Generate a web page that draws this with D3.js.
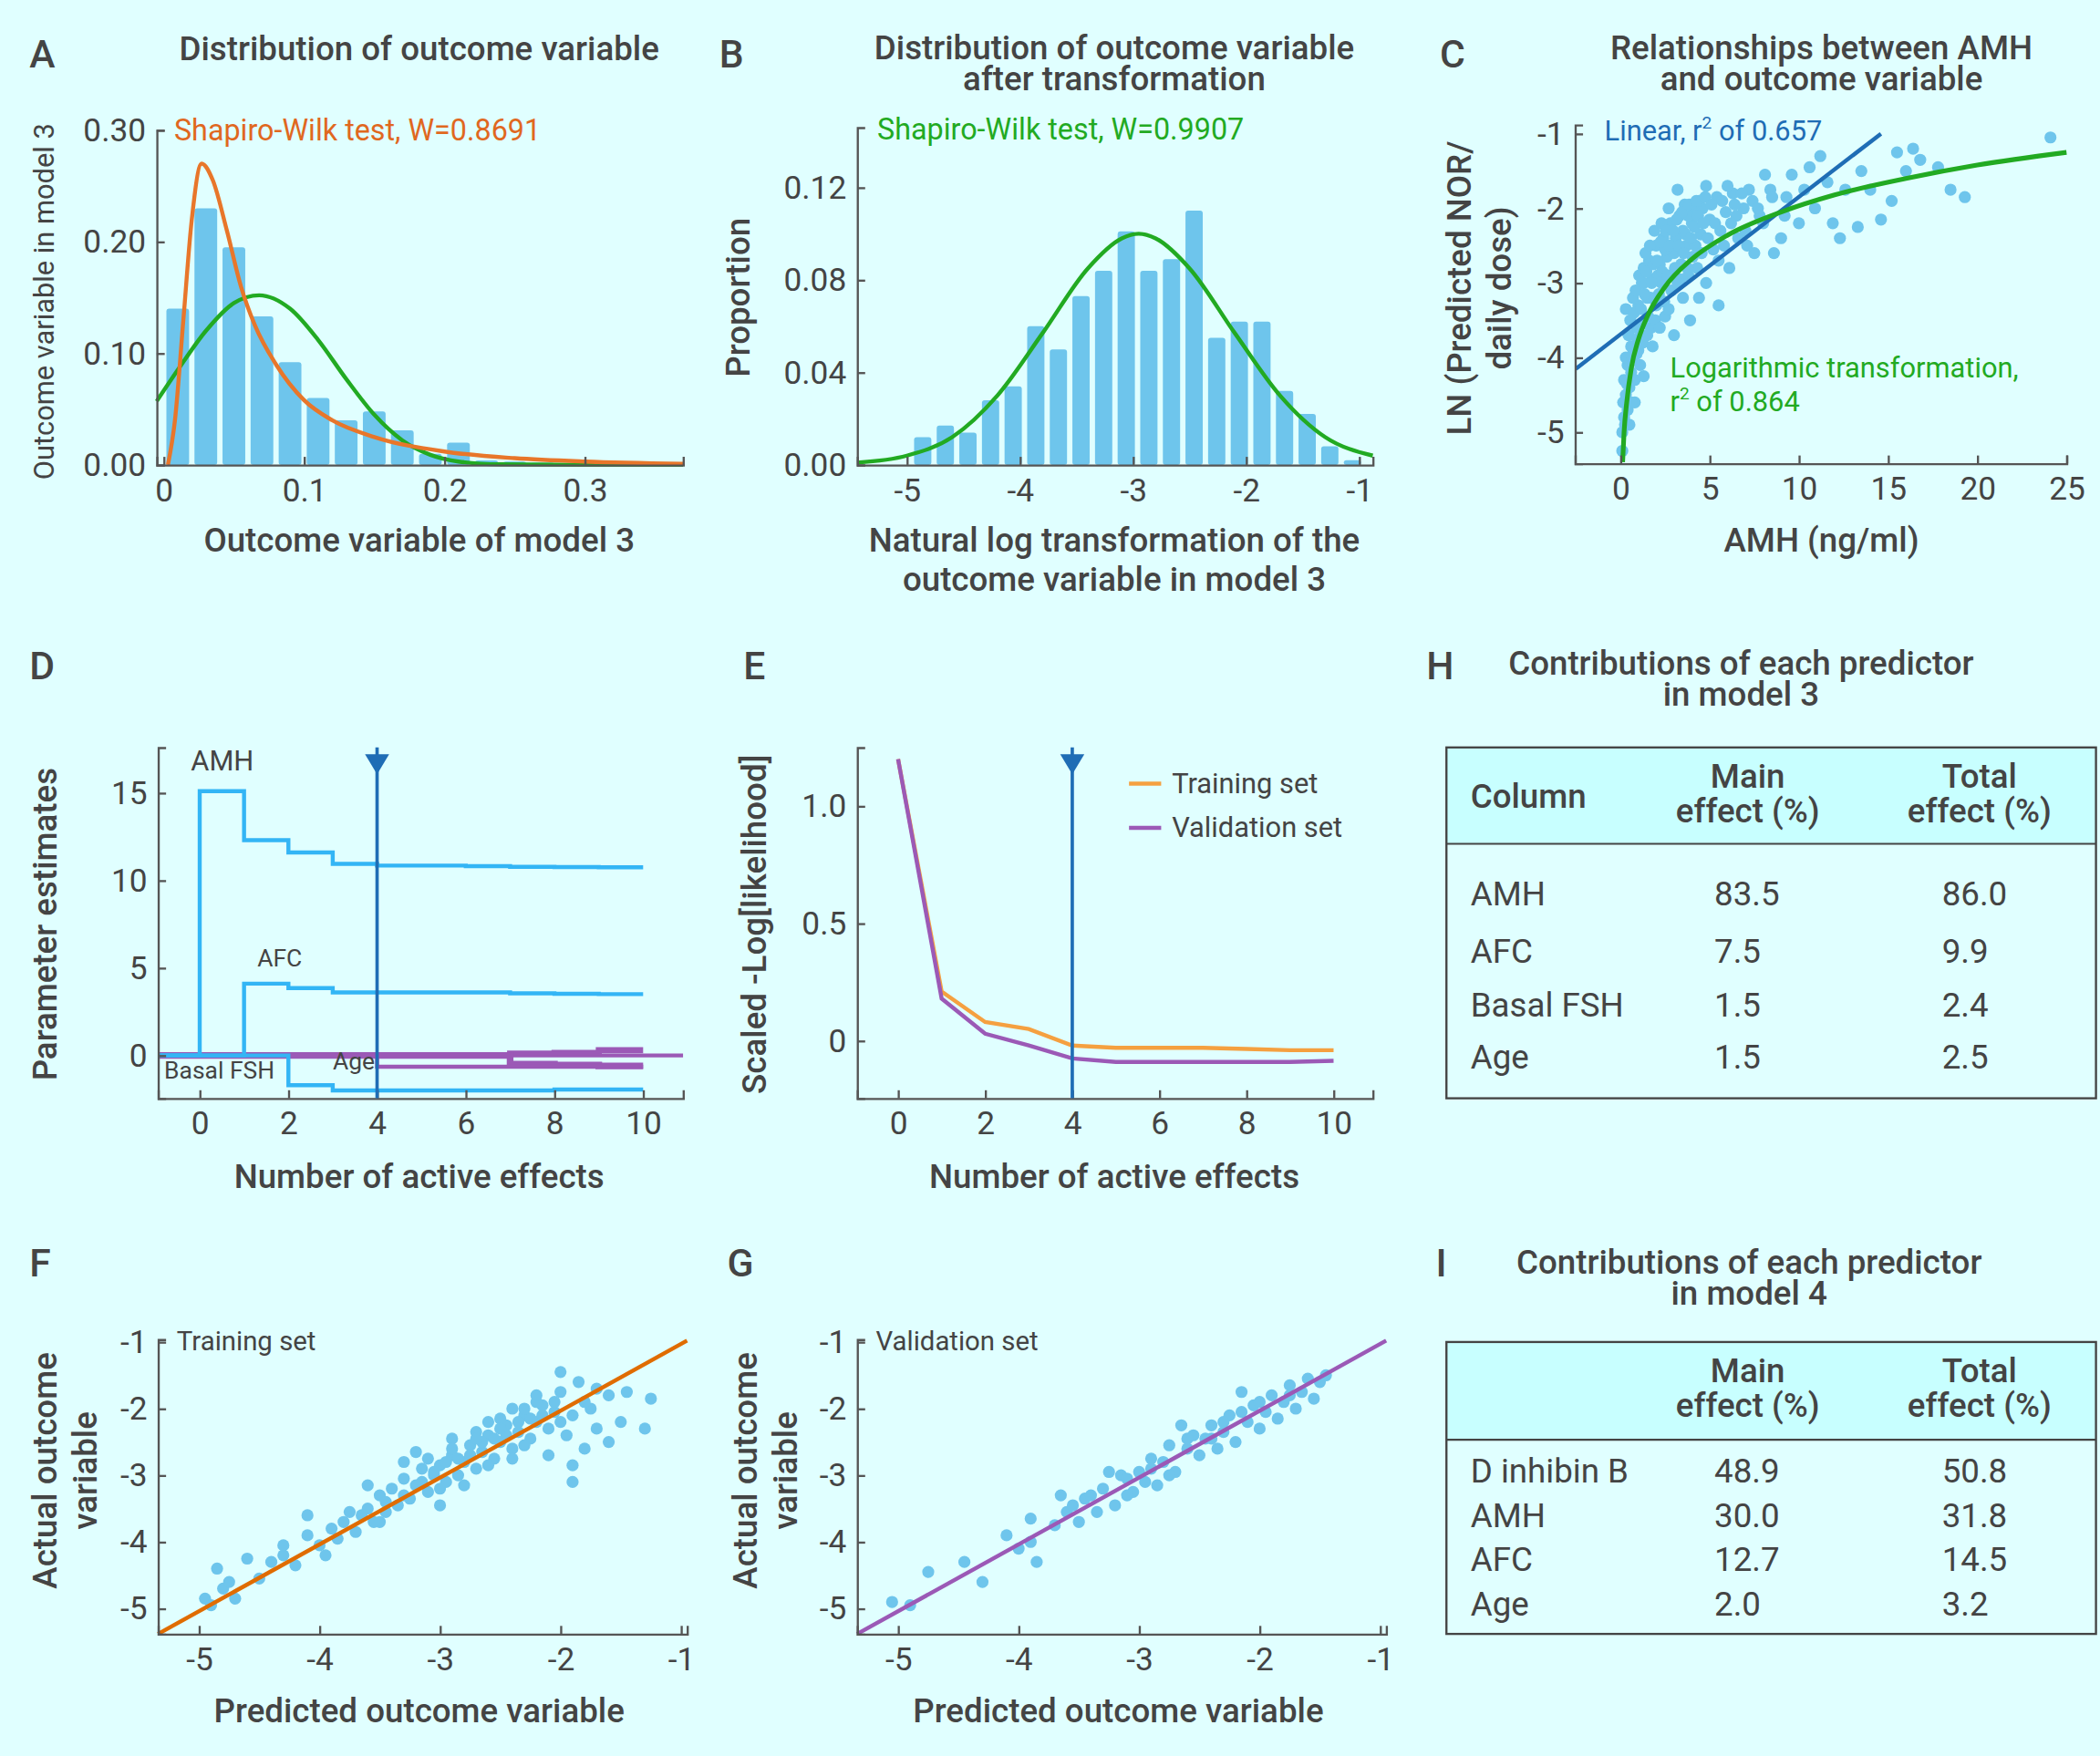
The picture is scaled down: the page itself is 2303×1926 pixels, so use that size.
<!DOCTYPE html>
<html><head><meta charset="utf-8">
<script src="https://cdn.jsdelivr.net/npm/d3@7"></script>
<style>
body{margin:0;background:#e0ffff;}
text{font-family:Roboto,"Noto Sans",sans-serif;fill:#444;}
</style></head><body>
<svg id="fig" width="2303" height="1926" viewBox="0 0 1568 1311"></svg>
<script>
// ---- data ----
const histA = [0.14,0.23,0.195,0.133,0.092,0.06,0.04,0.048,0.031,0.01,0.02,0.004,0.003,0.002,0.001];
const histAStart = 0.0, histAWidth = 0.02;
const skewFitA = [[0.003,0],[0.008,0.04],[0.014,0.13],[0.02,0.22],[0.027,0.27],[0.035,0.255],[0.045,0.21],[0.055,0.16],[0.065,0.125],[0.08,0.09],[0.1,0.058],[0.12,0.04],[0.15,0.025],[0.2,0.012],[0.25,0.006],[0.3,0.003],[0.37,0.001]];
const normFitA = [[-0.005,0.057],[0.01,0.085],[0.03,0.12],[0.05,0.145],[0.068,0.152],[0.09,0.14],[0.11,0.112],[0.13,0.077],[0.15,0.045],[0.17,0.022],[0.19,0.009],[0.21,0.003],[0.24,0.0005],[0.3,0],[0.37,0]];

const histB = [0.012,0.017,0.014,0.028,0.034,0.060,0.050,0.073,0.084,0.101,0.084,0.089,0.110,0.055,0.062,0.062,0.032,0.022,0.008,0.002];
const histBStart = -4.96, histBWidth = 0.2;
const normFitB = [[-5.44,0.001],[-5.0,0.004],[-4.6,0.012],[-4.2,0.03],[-3.8,0.057],[-3.4,0.085],[-3.1,0.098],[-2.95,0.1],[-2.8,0.098],[-2.5,0.085],[-2.1,0.057],[-1.7,0.03],[-1.3,0.012],[-0.88,0.004]];

const amhPoints = [[0.1,-5.25],[0.1,-5.0],[0.15,-4.6],[0.2,-4.8],[0.2,-4.3],[0.3,-4.5],[0.4,-4.1],[0.4,-4.7],[0.5,-4.4],[0.6,-3.85],[0.6,-4.2],[0.7,-3.95],[0.8,-4.3],[0.9,-3.6],[1.0,-3.9],[1.0,-3.3],[1.2,-3.55],[1.3,-3.0],[1.3,-2.8],[1.5,-3.2],[1.6,-2.7],[1.7,-3.6],[1.8,-2.95],[2.0,-2.5],[2.0,-3.3],[2.2,-2.75],[2.3,-3.0],[2.4,-2.4],[2.5,-3.45],[2.6,-2.65],[2.8,-2.2],[2.9,-2.9],[3.0,-3.7],[3.1,-2.4],[3.3,-2.1],[3.4,-2.75],[3.5,-3.2],[3.6,-1.95],[3.7,-2.5],[3.9,-3.5],[4.0,-2.2],[4.1,-2.0],[4.3,-2.8],[4.5,-2.35],[4.6,-2.0],[4.8,-3.0],[5.0,-2.15],[5.2,-2.55],[5.4,-1.85],[5.5,-3.3],[5.6,-2.3],[5.9,-2.05],[6.1,-2.8],[6.3,-1.8],[6.6,-2.4],[6.9,-2.0],[7.2,-1.75],[7.5,-2.6],[7.8,-2.1],[8.1,-1.55],[8.4,-1.75],[8.6,-2.6],[9.0,-2.4],[9.3,-1.85],[9.6,-1.55],[10.0,-2.2],[10.3,-1.75],[10.6,-1.45],[10.9,-2.0],[11.2,-1.3],[11.6,-1.65],[11.9,-2.2],[12.3,-2.4],[12.6,-1.75],[13.3,-2.25],[13.5,-1.5],[14.0,-1.75],[14.6,-2.15],[15.2,-1.9],[15.5,-1.25],[16.0,-1.5],[16.4,-1.2],[16.8,-1.35],[17.8,-1.45],[18.5,-1.75],[19.3,-1.85],[24.1,-1.05],[3.2,-1.75],[4.8,-1.7],[1.5,-3.7],[0.9,-3.95],[1.1,-4.1],[0.5,-4.9],[0.3,-3.35],[0.7,-3.2],[1.4,-2.6],[1.9,-2.3],[2.7,-2.0],[3.0,-2.6],[3.5,-2.3],[4.2,-2.5],[2.1,-2.9],[2.5,-2.55],[1.7,-3.2],[1.2,-3.0],[0.8,-4.6],[5.7,-1.9],[6.5,-2.1],[7.0,-2.3],[4.4,-1.9],[3.8,-2.1],[2.3,-2.2],[6.0,-1.7],
  [0.3,-4.0],[0.35,-4.35],[0.45,-3.7],[0.55,-3.5],[0.65,-4.0],[0.75,-3.4],[0.85,-3.1],[0.95,-3.75],[1.05,-2.9],[1.15,-3.35],[1.25,-3.8],[1.35,-3.15],[1.45,-2.85],[1.55,-3.45],[1.65,-2.5],[1.75,-3.0],[1.85,-2.75],[1.95,-3.5],[2.05,-2.7],[2.15,-3.15],[2.25,-2.45],[2.35,-2.85],[2.45,-3.25],[2.55,-2.3],[2.65,-2.9],[2.75,-2.5],[2.85,-3.1],[2.95,-2.3],[3.05,-2.8],[3.15,-2.15],[3.25,-2.5],[3.35,-2.95],[3.45,-2.05],[3.55,-2.6],[3.65,-2.35],[3.75,-2.8],[3.85,-1.95],[3.95,-2.4],[4.05,-2.65],[4.15,-2.25],[4.25,-1.9],[4.35,-2.1],[4.55,-2.6],[4.65,-2.2],[4.75,-1.85],[4.9,-2.4],[5.1,-1.95],[5.3,-2.2],[5.5,-2.7],[5.8,-2.5],[6.2,-2.2],[6.4,-1.95],[6.8,-1.8],[7.1,-2.5],[7.4,-1.9],[7.7,-2.0],[8.0,-2.2],[8.5,-1.85],[9.2,-2.1],[2.2,-3.6],[2.7,-3.35],[3.2,-3.0],[3.8,-2.9],[4.4,-3.2],[1.8,-3.85],[1.3,-4.25],[0.6,-4.6],[0.25,-4.9]];
const linearFitC = [[-2.5,-4.15],[14.6,-1.0]];
const logFitC = [[0.12,-5.4],[0.2,-5.0],[0.35,-4.6],[0.6,-4.15],[1.0,-3.76],[1.5,-3.45],[2.5,-3.05],[4,-2.68],[6,-2.36],[9,-2.05],[12,-1.82],[16,-1.6],[20,-1.42],[25,-1.25]];

const effectsX = [0,1,2,3,4,5,6,7,8,9,10];
const estAMH = [15.1,12.3,11.6,10.95,10.85,10.85,10.82,10.78,10.76,10.75,10.75];
const estAFC = [0,4.1,3.85,3.6,3.6,3.6,3.6,3.55,3.52,3.5,3.5];
const estFSH = [0,0,-1.7,-2.0,-2.0,-2.0,-2.0,-2.0,-1.95,-1.95,-1.95];
const estAge = [0,0,0,0,-0.65,-0.65,-0.65,-0.65,-0.65,-0.65,-0.65];
const estOther1 = [0,0,0,0,0,0,0,-0.5,-0.55,-0.6,-0.6];
const estOther2 = [0,0,0,0,0,0,0,0.1,0.15,0.3,0.3];
const paramLabels = [["AMH",-0.2,16.3],["AFC",1.3,5.1],["Basal FSH",-0.8,-1.3],["Age",3.0,-0.8]];
const bestStep = 4;

const trainLik = [1.2,0.21,0.08,0.05,-0.02,-0.03,-0.03,-0.03,-0.035,-0.04,-0.04];
const validLik = [1.2,0.18,0.03,-0.02,-0.075,-0.09,-0.09,-0.09,-0.09,-0.09,-0.085];

const trainPoints = [[-4.95,-4.85],[-4.9,-4.95],[-4.85,-4.4],[-4.8,-4.7],[-4.75,-4.6],[-4.7,-4.85],[-4.6,-4.25],[-4.5,-4.55],[-4.4,-4.3],[-4.3,-4.2],[-4.2,-4.35],[-4.1,-3.9],[-4.0,-4.05],[-3.95,-4.2],[-3.85,-3.95],[-3.8,-3.7],[-3.7,-3.85],[-3.6,-3.5],[-3.55,-3.7],[-3.5,-3.3],[-3.45,-3.55],[-3.4,-3.2],[-3.35,-3.45],[-3.3,-3.05],[-3.25,-3.35],[-3.2,-3.15],[-3.15,-2.9],[-3.1,-3.25],[-3.05,-3.0],[-3.0,-2.85],[-2.95,-3.1],[-2.9,-2.7],[-2.85,-3.0],[-2.8,-2.8],[-2.75,-2.55],[-2.7,-2.9],[-2.65,-2.65],[-2.6,-2.4],[-2.55,-2.75],[-2.5,-2.5],[-2.45,-2.25],[-2.4,-2.6],[-2.35,-2.35],[-2.3,-2.1],[-2.25,-2.45],[-2.2,-2.2],[-2.15,-1.95],[-2.1,-2.3],[-2.05,-2.05],[-2.0,-1.75],[-1.95,-2.4],[-1.9,-2.1],[-1.85,-1.6],[-1.8,-2.6],[-1.75,-2.0],[-1.7,-2.3],[-1.6,-1.8],[-1.5,-2.2],[-1.45,-1.75],[-1.3,-2.3],[-1.25,-1.85],[-2.0,-1.45],[-2.2,-1.9],[-2.6,-2.2],[-2.9,-2.45],[-3.3,-2.8],[-3.6,-3.15],[-4.1,-3.6],[-1.9,-3.1],[-1.9,-2.85],[-2.1,-2.7],[-1.6,-2.5],[-2.4,-2.0],[-2.8,-3.15],[-3.5,-3.7],[-3.0,-3.45],[-2.7,-2.35],[-2.5,-2.15],[-3.2,-2.65],[-2.3,-2.55],
  [-3.65,-3.6],[-3.45,-3.4],[-3.3,-3.3],[-3.15,-3.1],[-3.05,-2.95],[-2.95,-2.8],[-2.85,-2.75],[-2.75,-2.7],[-2.65,-2.5],[-2.55,-2.45],[-2.45,-2.4],[-2.35,-2.2],[-2.25,-2.15],[-2.15,-2.1],[-2.05,-1.9],[-3.1,-2.75],[-2.9,-2.6],[-2.7,-2.45],[-2.5,-2.3],[-2.3,-2.0],[-2.2,-1.8],[-3.9,-3.8],[-4.3,-4.05],[-3.75,-3.55],[-3.0,-3.2],[-2.6,-2.85],[-2.4,-2.75],[-2.0,-2.2],[-1.8,-1.9],[-1.7,-1.7]];
const validPoints = [[-5.05,-4.9],[-4.9,-4.95],[-4.75,-4.45],[-4.45,-4.3],[-4.3,-4.6],[-4.1,-3.9],[-4.0,-4.1],[-3.9,-4.0],[-3.85,-4.3],[-3.7,-3.75],[-3.6,-3.55],[-3.5,-3.7],[-3.45,-3.35],[-3.35,-3.55],[-3.3,-3.2],[-3.2,-3.45],[-3.15,-3.0],[-3.05,-3.25],[-3.0,-2.95],[-2.95,-3.1],[-2.9,-2.75],[-2.85,-3.15],[-2.8,-2.8],[-2.75,-2.55],[-2.7,-2.95],[-2.6,-2.6],[-2.55,-2.4],[-2.5,-2.7],[-2.45,-2.45],[-2.4,-2.25],[-2.35,-2.6],[-2.3,-2.35],[-2.25,-2.1],[-2.2,-2.5],[-2.1,-2.2],[-2.05,-1.95],[-2.0,-2.3],[-1.95,-2.05],[-1.9,-1.8],[-1.85,-2.15],[-1.8,-1.9],[-1.75,-1.65],[-1.7,-2.0],[-1.65,-1.75],[-1.6,-1.55],[-1.55,-1.85],[-1.5,-1.6],[-1.45,-1.5],[-3.65,-3.3],[-3.25,-2.95],[-2.65,-2.25],[-2.15,-1.75],[-3.9,-3.65],[-2.75,-3.0],[-3.1,-3.3],
  [-3.4,-3.3],[-3.1,-3.05],[-2.9,-2.9],[-2.6,-2.45],[-2.3,-2.2],[-2.0,-1.9],[-1.75,-1.8],[-3.55,-3.45],[-2.4,-2.45],[-2.15,-2.05]];

const tableH = {cols:["Column","Main\neffect (%)","Total\neffect (%)"], rows:[["AMH","83.5","86.0"],["AFC","7.5","9.9"],["Basal FSH","1.5","2.4"],["Age","1.5","2.5"]]};
const tableI = {cols:["","Main\neffect (%)","Total\neffect (%)"], rows:[["D inhibin B","48.9","50.8"],["AMH","30.0","31.8"],["AFC","12.7","14.5"],["Age","2.0","3.2"]]};

// ---- drawing ----
const svg = d3.select("#fig");
const TXT = "#444", BAR = "#6ec5ec", DOT = "#6ec5ec";
const TITLE = 25, LABEL = 25, TICK = 24;

function txt(x, y, s, o = {}) {
  const t = svg.append("text").attr("x", x).attr("y", y).text(s)
    .attr("font-size", o.size || 20).attr("font-weight", o.weight || 400)
    .attr("text-anchor", o.anchor || "middle").style("fill", o.fill || TXT);
  if (o.rotate) t.attr("transform", `rotate(-90,${x},${y})`);
  return t;
}

function axes(g, x, y, xt, yt, xfmt, yfmt) {
  const [x0] = x.range(), [y0] = y.range();
  const ax = g.append("g").attr("transform", `translate(0,${y0})`)
    .call(d3.axisBottom(x).tickValues(xt).tickSize(-6).tickPadding(10).tickFormat(xfmt || (d => d)));
  const ay = g.append("g").attr("transform", `translate(${x0},0)`)
    .call(d3.axisLeft(y).tickValues(yt).tickSize(-6).tickPadding(8).tickFormat(yfmt || (d => d)));
  [ax, ay].forEach(a => {
    a.selectAll("path,line").attr("stroke", "#555").attr("stroke-width", 1.6);
    a.selectAll("text").attr("font-size", TICK).style("fill", TXT).attr("font-family", "Roboto");
  });
}

const line = (x, y) => d3.line().x(d => x(d[0])).y(d => y(d[1]));

// Panel letters & titles
[["A",22,50],["B",537,50],["C",1075,50],["D",22,507],["E",555,507],["H",1065,507],["F",22,953],["G",543,953],["I",1072,953]]
  .forEach(([l, x, y]) => txt(x, y, l, {size: 29, weight: 500, anchor: "start"}));
const title = (x, lines, y0) => lines.forEach((s, i) => txt(x, y0 + i * 23, s, {size: TITLE, weight: 500}));
title(313, ["Distribution of outcome variable"], 45);
title(832, ["Distribution of outcome variable", "after transformation"], 44);
title(1360, ["Relationships between AMH", "and outcome variable"], 44);
title(1300, ["Contributions of each predictor", "in model 3"], 504);
title(1306, ["Contributions of each predictor", "in model 4"], 951);

// Panel A
{
  const g = svg.append("g");
  const x = d3.scaleLinear().domain([-0.005, 0.37]).range([117, 510]);
  const y = d3.scaleLinear().domain([0, 0.30]).range([347, 97]);
  g.selectAll("rect").data(histA).join("rect")
    .attr("x", (d, i) => x(histAStart + i * histAWidth) + 2)
    .attr("width", x(histAWidth) - x(0) - 4)
    .attr("y", d => y(d)).attr("height", d => y(0) - y(d))
    .attr("rx", 2).attr("fill", BAR);
  g.append("path").datum(normFitA).attr("d", line(x, y).curve(d3.curveMonotoneX))
    .attr("fill", "none").attr("stroke", "#22aa22").attr("stroke-width", 3);
  g.append("path").datum(skewFitA).attr("d", line(x, y).curve(d3.curveMonotoneX))
    .attr("fill", "none").attr("stroke", "#e8762a").attr("stroke-width", 3);
  axes(g, x, y, [0, 0.1, 0.2, 0.3], [0, 0.1, 0.2, 0.3], d => d === 0 ? "0" : d3.format(".1f")(d), d3.format(".2f"));
  txt(130, 105, "Shapiro-Wilk test, W=0.8691", {size: 22, anchor: "start", fill: "#e0681f"});
  txt(313, 412, "Outcome variable of model 3", {size: LABEL, weight: 500});
  txt(40, 225, "Outcome variable in model 3", {size: 21, weight: 400, rotate: true});
}

// Panel B
{
  const g = svg.append("g");
  const x = d3.scaleLinear().domain([-5.44, -0.88]).range([640, 1025]);
  const y = d3.scaleLinear().domain([0, 0.146]).range([347, 95]);
  g.selectAll("rect").data(histB).join("rect")
    .attr("x", (d, i) => x(histBStart + i * histBWidth) + 2)
    .attr("width", x(histBWidth) - x(0) - 4)
    .attr("y", d => y(d)).attr("height", d => y(0) - y(d))
    .attr("rx", 2).attr("fill", BAR);
  g.append("path").datum(normFitB).attr("d", line(x, y).curve(d3.curveMonotoneX))
    .attr("fill", "none").attr("stroke", "#22aa22").attr("stroke-width", 3);
  axes(g, x, y, [-5, -4, -3, -2, -1], [0, 0.04, 0.08, 0.12], null, d3.format(".2f"));
  txt(655, 104, "Shapiro-Wilk test, W=0.9907", {size: 22, anchor: "start", fill: "#22aa22"});
  txt(832, 412, "Natural log transformation of the", {size: LABEL, weight: 500});
  txt(832, 441, "outcome variable in model  3", {size: LABEL, weight: 500});
  txt(560, 222, "Proportion", {size: LABEL, weight: 500, rotate: true});
}

// Panel C
{
  const g = svg.append("g");
  const x = d3.scaleLinear().domain([-2.55, 25]).range([1176, 1543]);
  const y = d3.scaleLinear().domain([-5.42, -0.88]).range([346, 93]);
  g.selectAll("circle").data(amhPoints).join("circle")
    .attr("cx", d => x(d[0])).attr("cy", d => y(d[1])).attr("r", 4.5).attr("fill", DOT);
  g.append("path").datum(linearFitC).attr("d", line(x, y))
    .attr("fill", "none").attr("stroke", "#1f6db5").attr("stroke-width", 3);
  g.append("path").datum(logFitC).attr("d", line(x, y).curve(d3.curveMonotoneX))
    .attr("fill", "none").attr("stroke", "#22aa22").attr("stroke-width", 3.5);
  axes(g, x, y, [0, 5, 10, 15, 20, 25], [-1, -2, -3, -4, -5]);
  const sup = (t, c) => {
    t.append("tspan").text("2").attr("font-size", 13).attr("dy", -9).style("fill", c);
  };
  const l1 = txt(1198, 105, "Linear, r", {size: 21, anchor: "start", fill: "#1f6db5"});
  sup(l1, "#1f6db5");
  l1.append("tspan").text(" of 0.657").attr("dy", 9).style("fill", "#1f6db5");
  txt(1247, 282, "Logarithmic transformation,", {size: 21, anchor: "start", fill: "#22aa22"});
  const l2 = txt(1247, 307, "r", {size: 21, anchor: "start", fill: "#22aa22"});
  sup(l2, "#22aa22");
  l2.append("tspan").text(" of 0.864").attr("dy", 9).style("fill", "#22aa22");
  txt(1360, 412, "AMH (ng/ml)", {size: LABEL, weight: 500});
  txt(1098, 215, "LN (Predicted NOR/", {size: LABEL, weight: 500, rotate: true});
  txt(1128, 215, "daily dose)", {size: LABEL, weight: 500, rotate: true});
}

function marker(g, x, yTop, yBot) {
  g.append("line").attr("x1", x).attr("x2", x).attr("y1", yTop).attr("y2", yBot)
    .attr("stroke", "#1f6db5").attr("stroke-width", 2.5);
  g.append("path").attr("d", `M${x - 9},${yTop + 5}L${x + 9},${yTop + 5}L${x},${yTop + 20}Z`).attr("fill", "#1f6db5");
}

// Panel D
{
  const g = svg.append("g");
  const x = d3.scaleLinear().domain([-0.94, 10.9]).range([118, 510]);
  const y = d3.scaleLinear().domain([-2.45, 17.6]).range([820, 558]);
  const step = d3.line().x(d => x(d[0])).y(d => y(d[1])).curve(d3.curveStepAfter);
  const lead = arr => [[-0.94, 0]].concat(effectsX.map((e, i) => [e, arr[i]]));
  g.append("path").datum([[-0.94, 0], [10.9, 0]]).attr("d", line(x, y))
    .attr("stroke", "#9b59b6").attr("stroke-width", 3).attr("fill", "none");
  [[estOther2, 4.5], [estOther1, 5], [estAge, 3]].forEach(([arr, w]) =>
    g.append("path").datum(lead(arr)).attr("d", step).attr("fill", "none")
      .attr("stroke", "#9b59b6").attr("stroke-width", w));
  [estAMH, estAFC, estFSH].forEach(arr =>
    g.append("path").datum(lead(arr)).attr("d", step).attr("fill", "none")
      .attr("stroke", "#33b5f5").attr("stroke-width", 3));
  axes(g, x, y, [0, 2, 4, 6, 8, 10], [0, 5, 10, 15]);
  marker(g, x(bestStep), 558, 820);
  paramLabels.forEach(([s, px, py]) => txt(x(px), y(py), s, {size: s === "AMH" ? 21 : 18, anchor: "start"}));
  txt(313, 887, "Number of active effects", {size: LABEL, weight: 500});
  txt(42, 690, "Parameter estimates", {size: LABEL, weight: 500, rotate: true});
}

// Panel E
{
  const g = svg.append("g");
  const x = d3.scaleLinear().domain([-0.94, 10.9]).range([640, 1025]);
  const y = d3.scaleLinear().domain([-0.245, 1.25]).range([820, 558]);
  const pts = arr => effectsX.map((e, i) => [e, arr[i]]);
  g.append("path").datum(pts(trainLik)).attr("d", line(x, y)).attr("fill", "none").attr("stroke", "#f5a040").attr("stroke-width", 3);
  g.append("path").datum(pts(validLik)).attr("d", line(x, y)).attr("fill", "none").attr("stroke", "#9b59b6").attr("stroke-width", 3);
  axes(g, x, y, [0, 2, 4, 6, 8, 10], [0, 0.5, 1.0], null, d => d === 0 ? "0" : d3.format(".1f")(d));
  marker(g, x(bestStep), 558, 820);
  [["Training set", "#f5a040", 585], ["Validation set", "#9b59b6", 618]].forEach(([s, c, yy]) => {
    g.append("line").attr("x1", 843).attr("x2", 867).attr("y1", yy).attr("y2", yy).attr("stroke", c).attr("stroke-width", 3);
    txt(875, yy + 7, s, {size: 21, anchor: "start"});
  });
  txt(832, 887, "Number of active effects", {size: LABEL, weight: 500});
  txt(572, 690, "Scaled -Log[likelihood]", {size: LABEL, weight: 500, rotate: true});
}

// Panels F, G
function fitPanel(pts, left, color, label, letterX) {
  const g = svg.append("g");
  const x = d3.scaleLinear().domain([-5.34, -0.95]).range([left, left + 395]);
  const y = d3.scaleLinear().domain([-5.38, -0.96]).range([1220, 1000]);
  g.selectAll("circle").data(pts).join("circle")
    .attr("cx", d => x(d[0])).attr("cy", d => y(d[1])).attr("r", 4.5).attr("fill", DOT);
  g.append("path").datum([[-5.34, -5.38], [-0.95, -0.98]]).attr("d", line(x, y))
    .attr("stroke", color).attr("stroke-width", 3);
  axes(g, x, y, [-5, -4, -3, -2, -1], [-1, -2, -3, -4, -5]);
  txt(left + 14, 1008, label, {size: 20, anchor: "start"});
  const cx = left + 195;
  txt(cx, 1286, "Predicted outcome variable", {size: LABEL, weight: 500});
  txt(letterX, 1098, "Actual outcome", {size: LABEL, weight: 500, rotate: true});
  txt(letterX + 30, 1098, "variable", {size: LABEL, weight: 500, rotate: true});
}
fitPanel(trainPoints, 118, "#e06c00", "Training set", 42);
fitPanel(validPoints, 640, "#9b59b6", "Validation set", 565);

// Tables
function table(t, top, headH, bottom, rowYs) {
  const g = svg.append("g");
  g.append("rect").attr("x", 1080).attr("y", top).attr("width", 485).attr("height", headH).attr("fill", "#c8ffff");
  g.append("rect").attr("x", 1080).attr("y", top).attr("width", 485).attr("height", bottom - top)
    .attr("fill", "none").attr("stroke", "#444").attr("stroke-width", 1.6);
  g.append("line").attr("x1", 1080).attr("x2", 1565).attr("y1", top + headH).attr("y2", top + headH)
    .attr("stroke", "#444").attr("stroke-width", 1.4);
  const colX = [1098, 1305, 1478];
  t.cols.forEach((c, i) => {
    const lines = c.split("\n");
    lines.forEach((s, j) => txt(colX[i], lines.length > 1 ? top + 30 + j * 26 : top + 45, s,
      {size: 25, weight: 500, anchor: i === 0 ? "start" : "middle"}));
  });
  t.rows.forEach((r, ri) => r.forEach((s, i) =>
    txt([1098, 1280, 1450][i], rowYs[ri], s, {size: 25, anchor: "start"})));
}
table(tableH, 558, 72, 820, [676, 719, 759, 798]);
table(tableI, 1002, 73, 1220, [1107, 1140, 1173, 1206]);
</script></body></html>
